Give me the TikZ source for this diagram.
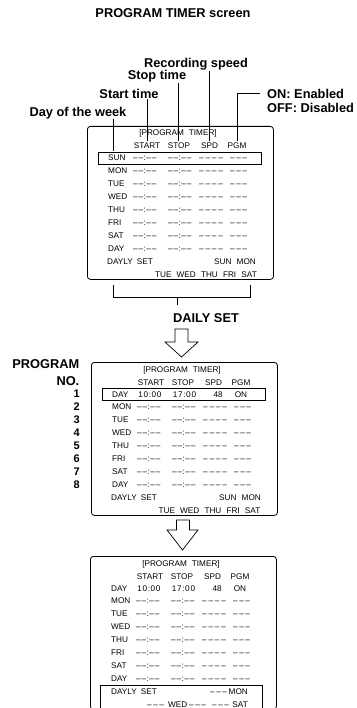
\documentclass[tikz,border=0pt]{standalone}
\usepackage{fontspec}
\setmainfont{Liberation Sans}
\newcommand{\tdash}{–\kern0.9pt–\kern0.5pt:\kern0.5pt–\kern0.9pt–}
\newcommand{\fdash}{–\kern1.8pt–\kern1.8pt–\kern1.8pt–}
\newcommand{\hdash}{–\kern1.5pt–\kern1.5pt–}
\newcommand{\wsp}{\hspace{5.2pt}}
\newcommand{\tmv}[4]{#1\kern0.7pt#2\kern0.6pt:\kern0.6pt#3\kern0.7pt#4}
\tikzset{
  lbl/.style={font=\fontsize{12.8}{14}\selectfont\bfseries, inner sep=0pt, anchor=base},
  num/.style={font=\fontsize{11}{12}\selectfont\bfseries, inner sep=0pt, anchor=base east},
  scr/.style={font=\fontsize{8.2}{9.8}\selectfont, inner sep=0pt, anchor=base},
  scrw/.style={scr, anchor=base west},
  scre/.style={scr, anchor=base east},
  frm/.style={draw, line width=0.8pt, rounded corners=3pt, minimum width=186pt, minimum height=153pt, inner sep=0pt, anchor=north west},
  selbox/.style={draw, line width=0.8pt, inner sep=0pt, anchor=north west, minimum width=163pt},
  lead/.style={line width=0.7pt},
  blockarrow/.style={draw, line width=0.7pt, line join=miter},
}
\newcommand{\panelrows}[1]{%
  \node[frm] (#1frame) at (0,0) {};
  \node[scr] (#1title) at (91,10) {[PROGRAM\hspace{5pt}TIMER]};
  \node[scr] (#1hA) at (60,23) {START};
  \node[scr] (#1hB) at (92,23) {STOP};
  \node[scr] (#1hC) at (122.5,23) {SPD};
  \node[scr] (#1hD) at (150,23) {PGM};
  \foreach \d [count=\i] in {MON,TUE,WED,THU,FRI,SAT,DAY}{
    \node[scrw] (#1d\i) at (21,35+12.9*\i) {\d};
    \node[scrw] (#1a\i) at (46,35+12.9*\i) {\tdash};
    \node[scrw] (#1b\i) at (81,35+12.9*\i) {\tdash};
    \node[scrw] (#1c\i) at (112,35+12.9*\i) {\fdash};
    \node[scrw] (#1e\i) at (143,35+12.9*\i) {\hdash};
  }%
}
\begin{document}
\begin{tikzpicture}[x=1pt,y=-1pt]
\useasboundingbox (0,0) rectangle (356,708);
\clip (0,0) rectangle (356,708);

% ---------- top labels ----------
\node[lbl] (title) at (173,18) {PROGRAM TIMER screen};
\node[lbl] (lspeed) at (196,68) {Recording speed};
\node[lbl] (lstop) at (157,80) {Stop time};
\node[lbl] (lstart) at (129,98.5) {Start time};
\node[lbl] (lday) at (78,116.5) {Day of the week};
\node[lbl, anchor=base west] (lon) at (267,98.5) {ON: Enabled};
\node[lbl, anchor=base west] (loff) at (267,113) {OFF: Disabled};

% ---------- panel 1 ----------
\begin{scope}[shift={(87,126)}]
  \panelrows{p1}
  \node[selbox, minimum height=12pt] (p1sel) at (11,26) {};
  \node[scrw] (p1d0) at (21,35) {SUN};
  \node[scrw] (p1a0) at (46,35) {\tdash};
  \node[scrw] (p1b0) at (81,35) {\tdash};
  \node[scrw] (p1c0) at (112,35) {\fdash};
  \node[scrw] (p1e0) at (143,35) {\hdash};
  \node[scrw] (p1ds) at (20,138.2) {DAYLY\hspace{4pt}SET};
  \node[scre] (p1sm) at (169,138.2) {SUN\wsp MON};
  \node[scre] (p1tu) at (170,151.1) {TUE\wsp WED\wsp THU\wsp FRI\wsp SAT};
\end{scope}

% leader lines
\coordinate (dayB) at (113,151.5);
\coordinate (staB) at (147,141);
\coordinate (stoB) at (178,141);
\coordinate (spdB) at (209,141);
\coordinate (pgmB) at (237,141);
\coordinate (onA) at (260,93);
\draw[lead] (lday.south -| dayB) -- (dayB);
\draw[lead] (lstart.south -| staB) -- (staB);
\draw[lead] (lstop.south -| stoB) -- (stoB);
\draw[lead] (lspeed.south -| spdB) -- (spdB);
\draw[lead] (pgmB) |- (onA);

% bracket
\coordinate (brL) at (113,285);
\coordinate (brR) at (250,285);
\coordinate (brM) at (177,297);
\coordinate (brS) at (177,305);
\draw[lead] (brL) |- (brR |- brM) -- (brR);
\draw[lead] (brM) -- (brS);
\node[lbl, anchor=base west] (ldaily) at (173,322) {DAILY SET};

% arrow 1
\draw[blockarrow] (175,329) -- (175,342) -- (165,342) -- (181.5,357) -- (198,342) -- (188,342) -- (188,329) -- cycle;

% ---------- program numbers ----------
\node[lbl, anchor=base east] (lprog) at (79.5,368) {PROGRAM};
\node[lbl, anchor=base east] (lno) at (79.5,385) {NO.};
\foreach \k in {1,...,8}{
  \node[num] (n\k) at (80,394+12.9*\k-12.9+3.9) {\k};
}

% ---------- panel 2 ----------
\begin{scope}[shift={(91,362)}]
  \panelrows{p2}
  \node[selbox, minimum height=11.5pt] (p2sel) at (11,26) {};
  \node[scrw] (p2d0) at (21,35) {DAY};
  \node[scr] (p2v1) at (59,35) {\tmv1000};
  \node[scr] (p2v2) at (93.5,35) {\tmv1700};
  \node[scre] (p2v3) at (132,35) {48};
  \node[scr] (p2v4) at (150,35) {ON};
  \node[scrw] (p2ds) at (20,138.2) {DAYLY\hspace{4pt}SET};
  \node[scre] (p2sm) at (170,138.2) {SUN\wsp MON};
  \node[scre] (p2tu) at (169.5,151.1) {TUE\wsp WED\wsp THU\wsp FRI\wsp SAT};
\end{scope}

% arrow 2
\draw[blockarrow] (176.5,520) -- (176.5,530) -- (167,530) -- (182.5,550) -- (198,530) -- (189.5,530) -- (189.5,520) -- cycle;

% ---------- panel 3 ----------
\begin{scope}[shift={(90,556)}]
  \panelrows{p3}
  \node[scrw] (p3d0) at (21,35) {DAY};
  \node[scr] (p3v1) at (59,35) {\tmv1000};
  \node[scr] (p3v2) at (93.5,35) {\tmv1700};
  \node[scre] (p3v3) at (132,35) {48};
  \node[scr] (p3v4) at (150,35) {ON};
  \node[selbox, minimum width=162pt, minimum height=26pt] (p3sel) at (10,129) {};
  \node[scrw] (p3ds) at (21,138.2) {DAYLY\hspace{4pt}SET};
  \node[scrw] (p3x1) at (120,138.2) {\hdash};
  \node[scre] (p3mon) at (158,138.2) {MON};
  \node[scrw] (p3x2) at (57,151.1) {\hdash};
  \node[scrw] (p3wed) at (78,151.1) {WED};
  \node[scrw] (p3x3) at (99,151.1) {\hdash};
  \node[scrw] (p3x4) at (122,151.1) {\hdash};
  \node[scre] (p3sat) at (158,151.1) {SAT};
\end{scope}
\end{tikzpicture}
\end{document}
